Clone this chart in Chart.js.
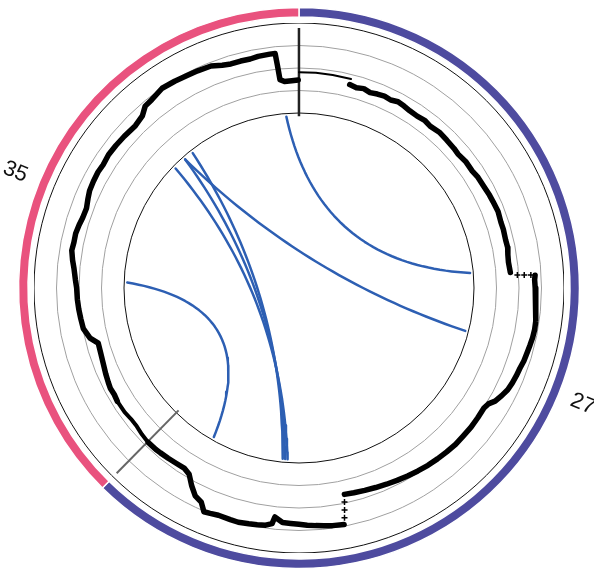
<!DOCTYPE html>
<html>
<head>
<meta charset="utf-8">
<script src="https://cdn.jsdelivr.net/npm/chart.js@4.4.1/dist/chart.umd.min.js"></script>
<style>
  html, body { margin: 0; padding: 0; background: #fff; }
  #wrap { position: relative; width: 594px; height: 570px; overflow: hidden; background: #fff; }
  #wrap canvas { position: absolute; }
</style>
</head>
<body>
<div id="wrap">
  <canvas id="ideo" width="594" height="570" style="left:0;top:0"></canvas>
  <canvas id="grid" width="530" height="530" style="left:34px;top:23px"></canvas>
  <canvas id="track" width="594" height="570" style="left:0;top:0"></canvas>
</div>
<script>
var chroms = ['27', '35'];
var chromLen = [44.9, 27.1];   // Mb
var chromColor = ['#4e4b9f', '#e9527e'];

// track values, chr27 (Mb / value), null = break
var c27SmoothPos = [0.0, 0.9, 1.8, 2.8];
var c27SmoothVal = [2.0, 2.0, 1.99, 1.98];
var c27Pos = [2.8, 3.2, 3.6, 4.0, 4.4, 4.8, 5.2, 5.6, 6.0, 6.4, 6.9, 7.4, 7.8, 8.4, 9.0, 9.6, 10.0, 10.6, 11.2, 11.6,
  12.2, 12.8, 13.2, 13.8, 14.4, 14.8, 15.4, 15.8, 16.2, 16.6, 17.16, null,
  17.38, 17.6, 18.0, 18.4, 18.8, 19.2, 19.6, 20.0, 20.4, 20.8, 21.2, 21.6, 22.0, 22.4, 22.8, 23.2, 23.6, 24.0, 24.3,
  24.6, 25.2, 25.8, 26.4, 27.0, 27.6, 28.2, 28.8, 29.4, 30.0, 30.6, 31.2, 31.8, 32.4, 33.0, 33.52, null,
  33.84, 34.4, 34.8, 35.2, 35.6, 36.0, 36.4, 36.8, 37.2, 37.3, 37.6, 38.0, 38.4, 38.9, 39.3, 39.9, 40.3, 40.6,
  40.9, 41.3, 41.7, 42.1, 42.5, 43.0, 43.5, 44.0, 44.3, 44.85];
var c27Val = [1.72, 1.66, 1.72, 1.64, 1.70, 1.74, 1.70, 1.78, 1.74, 1.69, 1.67, 1.71, 1.66, 1.72, 1.69, 1.67, 1.64, 1.70, 1.69, 1.75,
  1.77, 1.82, 1.84, 1.88, 1.84, 1.85, 1.83, 1.85, 1.80, 1.78, 1.82, null,
  2.93, 2.90, 2.92, 2.96, 2.98, 3.01, 3.03, 3.06, 3.04, 3.00, 2.96, 2.93, 2.87, 2.84, 2.80, 2.74, 2.62, 2.48, 2.28,
  2.21, 2.23, 2.25, 2.24, 2.25, 2.22, 2.19, 2.16, 2.11, 2.06, 2.01, 1.96, 1.91, 1.87, 1.83, 1.80, null,
  3.14, 3.10, 3.06, 3.02, 2.98, 2.93, 2.90, 2.88, 2.66, 2.97, 3.08, 3.12, 3.15, 3.19, 3.17, 3.15, 3.20, 3.24,
  2.89, 2.75, 2.41, 2.02, 1.90, 1.92, 1.95, 1.98, 2.00, 2.00];
var c27StepPos = [17.32, 17.34, 17.36, 33.60, 33.68, 33.76];
var c27StepVal = [2.13, 2.44, 2.74, 2.14, 2.49, 2.84];

// track values, chr35
var c35SmoothPos = [0.0, 0.5, 1.0, 1.5, 2.0, 2.7];
var c35SmoothVal = [2.0, 1.95, 1.88, 1.87, 1.92, 1.92];
var c35Pos = [2.7, 3.1, 3.5, 3.82, 4.3, 4.9, 5.5, 6.02, 6.4, 6.96, 7.5, 8.0, 8.5, 9.1, 9.5, 10.1, 10.5, 10.98, 11.4, 11.84,
  12.3, 12.7, 13.22, 13.7, 14.1, 14.58, 15.1, 15.54, 16.1, 16.68, 17.3, 18.06, 18.64, 19.06, 19.5, 20.22, 20.9, 21.52,
  22.1, 22.78, 23.3, 23.72, 24.22, 24.7, 25.1, 25.68, 25.94, 26.0, 26.06, 26.3, 26.7, 27.06];
var c35Val = [1.92, 1.88, 1.90, 1.86, 1.80, 1.72, 1.67, 1.65, 1.95, 2.16, 2.20, 2.24, 2.27, 2.29, 2.35, 2.45, 2.55, 2.65, 2.62, 2.63,
  2.58, 2.52, 2.50, 2.60, 2.68, 2.71, 2.73, 2.70, 2.75, 2.73, 2.70, 2.66, 2.76, 3.01, 3.05, 3.19, 3.15, 3.10,
  3.08, 3.04, 2.90, 2.83, 2.84, 2.83, 2.88, 2.90, 2.90, 2.30, 1.70, 1.60, 1.62, 1.65];

// links: chrom/position at each end
var linkChrA = ['35', '35', '35', '35', '35', '35'];
var linkPosA = [26.26, 18.80, 17.92, 18.80, 19.46, 9.46];
var linkChrB = ['27', '27', '27', '27', '27', '27'];
var linkPosB = [17.0, 20.9, 36.76, 36.92, 37.08, 41.94];

// geometry
var R_IN = 175, R_STEP = 22.5, R_BAND_OUT = 280.5, R_BAND_IN = 271;
var total = chromLen.reduce(function (a, b) { return a + b; }, 0);
var chromStart = [0, chromLen[0]];

function toXY(chrom, pos, r) {
  var ci = chroms.indexOf(chrom);
  var a = (chromStart[ci] + pos) / total * 2 * Math.PI;
  return { x: r * Math.sin(a), y: r * Math.cos(a) };
}
function trackPoints(chrom, pos, val) {
  return pos.map(function (p, i) {
    if (p === null || val[i] === null) return { x: null, y: null };
    return toXY(chrom, p, R_IN + R_STEP * val[i]);
  });
}
function linkPoints(i) {
  var p0 = toXY(linkChrA[i], linkPosA[i], R_IN);
  var p2 = toXY(linkChrB[i], linkPosB[i], R_IN);
  var c = { x: 0.25 * (p0.x + p2.x) / 2, y: 0.25 * (p0.y + p2.y) / 2 };
  var out = [];
  for (var k = 0; k <= 48; k++) {
    var t = k / 48, u = 1 - t;
    out.push({ x: u * u * p0.x + 2 * u * t * c.x + t * t * p2.x,
               y: u * u * p0.y + 2 * u * t * c.y + t * t * p2.y });
  }
  return out;
}

Chart.defaults.animation = false;
Chart.defaults.plugins.legend.display = false;
Chart.defaults.plugins.tooltip.enabled = false;

// ideogram band + names
var nameLabels = {
  id: 'nameLabels',
  afterDraw: function (chart) {
    var ctx = chart.ctx;
    chart.getDatasetMeta(0).data.forEach(function (arc, i) {
      var mid = (arc.startAngle + arc.endAngle) / 2;
      var r = arc.outerRadius + 26;
      var rot = Math.cos(mid) < 0 ? mid + Math.PI : mid;
      ctx.save();
      ctx.translate(arc.x + Math.cos(mid) * r, arc.y + Math.sin(mid) * r);
      ctx.rotate(rot);
      ctx.font = '22px "Liberation Sans", Arial, sans-serif';
      ctx.fillStyle = '#111';
      ctx.textAlign = 'center';
      ctx.textBaseline = 'middle';
      ctx.fillText(chart.data.labels[i], 0, 0);
      ctx.restore();
    });
  }
};
new Chart(document.getElementById('ideo'), {
  type: 'doughnut',
  data: {
    labels: chroms,
    datasets: [{ data: chromLen, backgroundColor: chromColor, borderColor: '#fff', borderWidth: 1.5 }]
  },
  options: {
    responsive: false,
    radius: R_BAND_OUT,
    cutout: (R_BAND_IN / R_BAND_OUT * 100) + '%',
    layout: { padding: { left: 4, top: 6, right: 0, bottom: 0 } }
  },
  plugins: [nameLabels]
});

// track grid circles
new Chart(document.getElementById('grid'), {
  type: 'radar',
  data: { labels: chroms, datasets: [] },
  options: {
    responsive: false,
    scales: {
      r: {
        min: -R_IN / R_STEP, max: 4,
        afterBuildTicks: function (s) { s.ticks = [0, 1, 2, 3, 4].map(function (v) { return { value: v }; }); },
        ticks: { display: false },
        pointLabels: { display: false },
        angleLines: { display: false },
        grid: {
          circular: true,
          color: function (c) { return (c.tick.value === 0 || c.tick.value === 4) ? '#111' : '#a0a0a0'; },
          lineWidth: 1
        }
      }
    }
  }
});

// track, sector borders, links
var datasets = [];
var lineBase = { showLine: true, pointRadius: 0, borderColor: '#000', fill: false, tension: 0,
  borderJoinStyle: 'round', borderCapStyle: 'round' };
datasets.push(Object.assign({}, lineBase, { data: trackPoints('27', c27SmoothPos, c27SmoothVal), borderWidth: 2 }));
datasets.push(Object.assign({}, lineBase, { data: trackPoints('27', c27Pos, c27Val), borderWidth: 5.5 }));
datasets.push(Object.assign({}, lineBase, { data: trackPoints('35', c35SmoothPos, c35SmoothVal), borderWidth: 4 }));
datasets.push(Object.assign({}, lineBase, { data: trackPoints('35', c35Pos, c35Val), borderWidth: 5.5 }));
datasets.push({ data: trackPoints('27', c27StepPos, c27StepVal), showLine: false, pointStyle: 'cross',
  pointRadius: 3, borderColor: '#000', borderWidth: 1.5 });
// sector borders inside the track
[['27', 0, '#222', 2.5], ['35', 0, '#666', 2]].forEach(function (b) {
  datasets.push(Object.assign({}, lineBase, { borderColor: b[2], borderWidth: b[3], borderCapStyle: 'butt',
    data: [toXY(b[0], b[1], R_IN), toXY(b[0], b[1], R_IN + 4 * R_STEP)] }));
});
linkPosA.forEach(function (p, i) {
  datasets.push(Object.assign({}, lineBase, { data: linkPoints(i), borderColor: '#2d5fb3', borderWidth: 2.5 }));
});

new Chart(document.getElementById('track'), {
  type: 'scatter',
  data: { datasets: datasets },
  options: {
    responsive: false,
    layout: { padding: 0 },
    scales: {
      x: { type: 'linear', min: -299, max: 295, display: false },
      y: { type: 'linear', min: -282, max: 288, display: false }
    }
  }
});
</script>
</body>
</html>
